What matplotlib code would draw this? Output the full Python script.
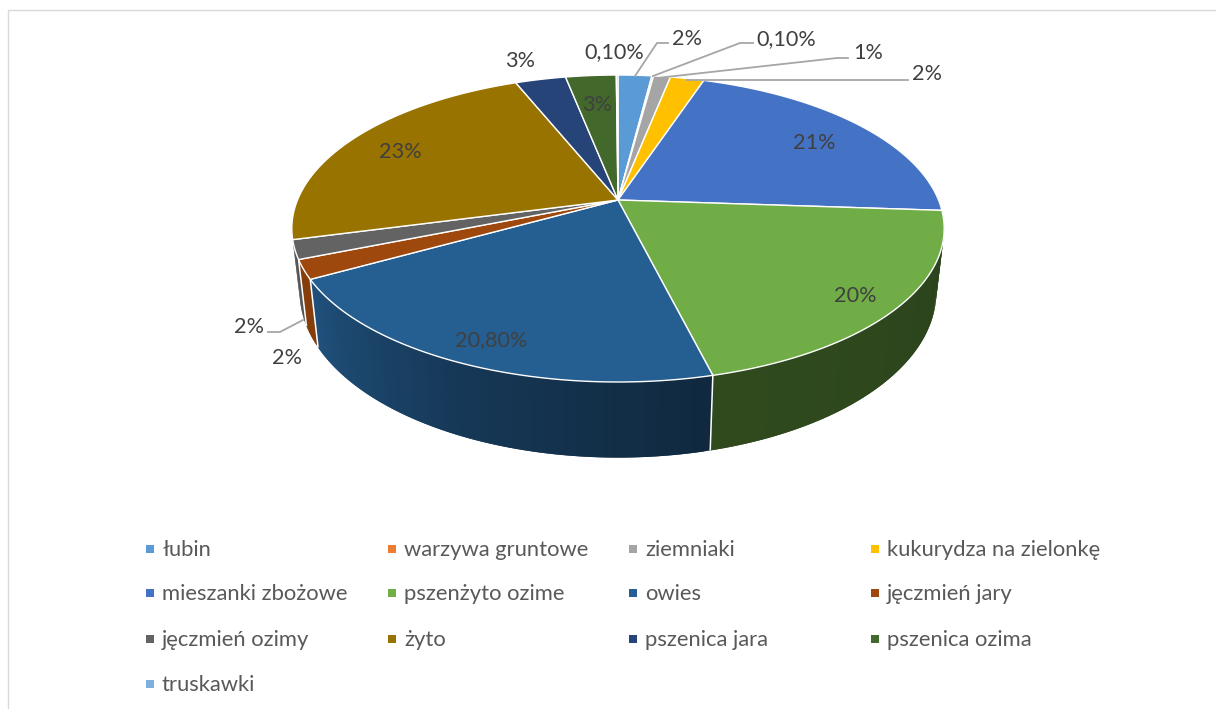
#!/usr/bin/env python3
"""3D-style pie of crop shares, with a perspective-projected disc."""

import numpy as np
import matplotlib
matplotlib.use('Agg')
import matplotlib.pyplot as plt
from matplotlib.colors import to_rgb
from matplotlib.patches import Polygon, Rectangle

plt.rcParams['font.family'] = ['Lato', 'DejaVu Sans']

categories = ['łubin', 'warzywa gruntowe', 'ziemniaki', 'kukurydza na zielonkę',
              'mieszanki zbożowe', 'pszenżyto ozime', 'owies', 'jęczmień jary',
              'jęczmień ozimy', 'żyto', 'pszenica jara', 'pszenica ozima',
              'truskawki']
values = [2, 0.1, 1, 2, 21, 20, 20.8, 2, 2, 23, 3, 3, 0.1]
colors = ['#5b9bd5', '#ed7d31', '#a5a5a5', '#ffc000', '#4472c4', '#70ad47',
          '#255e91', '#9e480e', '#636363', '#997300', '#264478', '#43682b',
          '#7cafdd']

LABEL_COLOR = '#404040'
LEGEND_COLOR = '#595959'
LEADER_COLOR = '#a6a6a6'


def project(angle, cy, rx, ry, k):
    """Angle in degrees clockwise from 12 o'clock to picture coordinates."""
    u = np.sin(np.radians(angle))
    v = np.cos(np.radians(angle))
    w = 1 + k * v
    return 618 + rx * u / w, cy - ry * v / w


def top_face(angle):
    return project(angle, 200, 320.5, 148.2, 0.1857)


def bottom_face(angle):
    return project(angle, 262, 313, 160, 0.182)


def wall_shade(angle):
    return np.interp(angle, [90, 166, 205, 240, 270], [0.38, 0.43, 0.60, 0.85, 0.85])


fig = plt.figure(figsize=(12.16, 7.09), dpi=100)
ax = fig.add_axes([0, 0, 1, 1])
ax.set_xlim(0, 1216)
ax.set_ylim(709, 0)
ax.axis('off')

# thin chart frame
ax.plot([8, 8, 1216], [709, 10, 10], color='#d9d9d9', lw=1.0)

bounds = np.concatenate([[0], np.cumsum(values)]) / sum(values) * 360

# side wall, only the front part can be seen
# each strip overlaps the next one so no white seams show through
for i, color in enumerate(colors):
    start, end = max(bounds[i], 85), min(bounds[i + 1], 256)
    if end <= start:
        continue
    edges = np.arange(start, end, 1.0)
    for a0 in edges:
        a1 = min(a0 + 2.0, end)
        shade = np.array(to_rgb(color)) * wall_shade(a0 + 0.5)
        quad = [top_face(a0), top_face(a1), bottom_face(a1), bottom_face(a0)]
        ax.add_patch(Polygon(quad, closed=True, facecolor=shade, edgecolor='none', lw=0))

# white seams between the wall pieces
for b in bounds:
    if 120 < b < 250:
        xs, ys = zip(top_face(b), bottom_face(b))
        ax.plot(xs, ys, color='white', lw=1.1, solid_capstyle='butt')

# top of the disc
for i, color in enumerate(colors):
    arc = np.linspace(bounds[i], bounds[i + 1], max(int(bounds[i + 1] - bounds[i]) * 2, 2))
    pts = [top_face(a) for a in arc] + [(618, 200)]
    ax.add_patch(Polygon(pts, closed=True, facecolor=color, edgecolor='white',
                         lw=1.0, joinstyle='round'))

# leader lines
leaders = [([635, 657, 668], [76, 43, 43]),
           ([653, 740, 753], [76, 43, 43]),
           ([657, 837, 848], [78, 58, 58]),
           ([687, 908], [80, 80]),
           ([303, 280, 268], [320, 332, 332])]
for xs, ys in leaders:
    ax.plot(xs, ys, color=LEADER_COLOR, lw=1.3)

# data labels
point_labels = [('0,10%', 614, 52), ('2%', 687, 39), ('0,10%', 786, 39), ('1%', 868, 53),
                ('2%', 927, 74), ('21%', 814, 143), ('20%', 855, 296), ('20,80%', 491, 340),
                ('2%', 287, 358), ('2%', 249, 327), ('23%', 400, 152), ('3%', 520, 61),
                ('3%', 597, 105)]
for text, x, y in point_labels:
    ax.text(x, y, text, ha='center', va='center', fontsize=15.6, color=LABEL_COLOR)

# legend, four columns
col_x = [146, 388, 629, 871]
row_y = [549, 593, 639, 684]
for i, (name, color) in enumerate(zip(categories, colors)):
    x, y = col_x[i % 4], row_y[i // 4]
    ax.add_patch(Rectangle((x, y - 4), 8, 8, facecolor=color, edgecolor='none'))
    ax.text(x + 16, y + 1, name, ha='left', va='center', fontsize=15.8, color=LEGEND_COLOR)

fig.savefig('out.png', dpi=100)
